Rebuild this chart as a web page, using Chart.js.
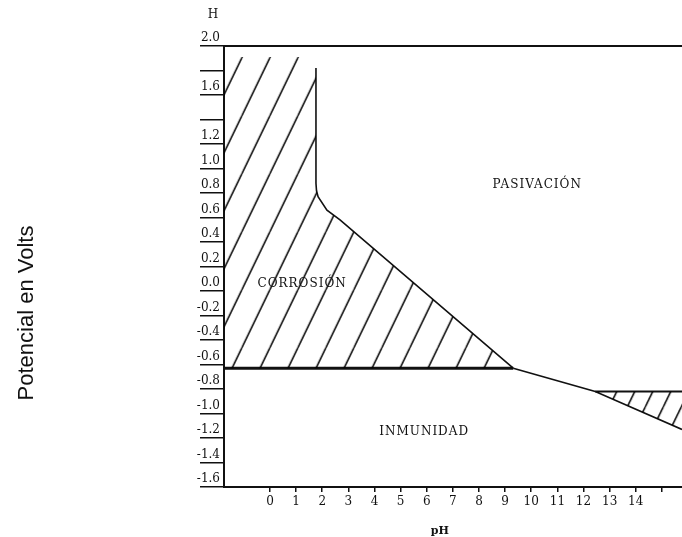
<!DOCTYPE html>
<html>
<head>
<meta charset="utf-8">
<script src="https://cdn.jsdelivr.net/npm/chart.js@4.4.1/dist/chart.umd.min.js"></script>
<style>
  html, body { margin: 0; background: #fff; }
  #wrap { width: 682px; height: 537px; }
</style>
</head>
<body>
<div id="wrap"><canvas id="chart"></canvas></div>
<script>
const PH_MIN = -1.76, PH_MAX = 15.77;
const E_MIN = -1.6, E_MAX = 2.0;

const PH_TICKS = [0, 1, 2, 3, 4, 5, 6, 7, 8, 9, 10, 11, 12, 13, 14, 15];
const PH_LABELS = ["0", "1", "2", "3", "4", "5", "6", "7", "8", "9", "10", "11", "12", "13", "14", ""];

const E_TICKS = [-1.6, -1.4, -1.2, -1.0, -0.8, -0.6, -0.4, -0.2, 0, 0.2, 0.4, 0.6, 0.8, 1.0, 1.2, 1.4, 1.6, 1.8, 2.0];
const E_LABELS = ["-1.6", "-1.4", "-1.2", "-1.0", "-0.8", "-0.6", "-0.4", "-0.2", "0.0", "0.2", "0.4", "0.6", "0.8", "1.0", "1.2", "", "1.6", "", "2.0"];

// corrosion / passivation boundary
const CORR_PH = [1.76, 1.76, 1.78, 1.84, 2.18, 2.68, 9.31];
const CORR_E = [1.82, 0.88, 0.82, 0.77, 0.66, 0.58, -0.63];

// corrosion / immunity line
const IMM_PH = [PH_MIN, 9.31];
const IMM_E = [-0.63, -0.63];

// passivation / immunity line
const PAS_PH = [9.31, 12.45, 15.77];
const PAS_E = [-0.63, -0.82, -1.13];

// upper edge of the alkaline corrosion zone
const ALK_PH = [12.45, 15.77];
const ALK_E = [-0.82, -0.82];

// hatched area of the acid corrosion zone
const ZONE_A_PH = [PH_MIN, 1.3, 1.76, 1.76, 1.78, 1.84, 2.18, 2.68, 9.31];
const ZONE_A_E = [1.91, 1.91, 1.82, 0.88, 0.82, 0.77, 0.66, 0.58, -0.63];

const ZONE_NAMES = ["CORROSIÓN", "PASIVACIÓN", "INMUNIDAD"];
const ZONE_PH = [1.23, 10.23, 5.9];
const ZONE_E = [0.06, 0.87, -1.15];

const pts = (xs, ys) => xs.map((x, i) => ({ x, y: ys[i] }));

const canvas = document.getElementById("chart");
const ctx = canvas.getContext("2d");

function hatch(step, h, dx) {
  const tile = document.createElement("canvas");
  tile.width = step;
  tile.height = h;
  const g = tile.getContext("2d");
  g.strokeStyle = "#000";
  g.lineWidth = 1.5;
  for (const k of [-1, 0, 1]) {
    g.beginPath();
    g.moveTo(k * step, h);
    g.lineTo((k + 1) * step, 0);
    g.stroke();
  }
  const p = ctx.createPattern(tile, "repeat");
  p.setTransform(new DOMMatrix().translateSelf(dx, 0));
  return p;
}

const textPlugin = {
  id: "texts",
  afterDraw(chart) {
    const { ctx, chartArea, scales } = chart;
    const x = scales.x, y = scales.y;
    ctx.save();
    ctx.fillStyle = "#111";
    ctx.textAlign = "center";
    ctx.textBaseline = "middle";

    ctx.font = '12px "DejaVu Serif"';
    ctx.letterSpacing = "1px";
    ZONE_NAMES.forEach((name, i) => {
      ctx.fillText(name, x.getPixelForValue(ZONE_PH[i]), y.getPixelForValue(ZONE_E[i]));
    });
    ctx.letterSpacing = "0px";

    ctx.font = '12px "DejaVu Serif"';
    ctx.fillText("H", chartArea.left - 11, chartArea.top - 31);

    ctx.font = 'bold 11px "DejaVu Serif"';
    ctx.fillText("pH", x.getPixelForValue(6.5), x.bottom - 6);

    ctx.font = '22px "Liberation Sans"';
    ctx.textBaseline = "alphabetic";
    ctx.translate(33, 313);
    ctx.rotate(-Math.PI / 2);
    ctx.fillText("Potencial en Volts", 0, 0);
    ctx.restore();
  },
};

const line = (data, width) => ({
  data,
  borderColor: "#111",
  borderWidth: width,
  pointRadius: 0,
  fill: false,
  tension: 0,
});

new Chart(canvas, {
  type: "line",
  data: {
    datasets: [
      {
        data: pts(ZONE_A_PH, ZONE_A_E),
        borderWidth: 0,
        pointRadius: 0,
        backgroundColor: hatch(28, 58, -10.3),
        fill: { value: -0.63 },
      },
      {
        data: pts(ALK_PH, PAS_E.slice(1)),
        borderWidth: 0,
        pointRadius: 0,
        backgroundColor: hatch(18, 37, -2.8),
        fill: { value: -0.82 },
      },
      line(pts(CORR_PH, CORR_E), 1.6),
      line(pts(IMM_PH, IMM_E), 3),
      line(pts(PAS_PH, PAS_E), 1.6),
      line(pts(ALK_PH, ALK_E), 2),
    ],
  },
  options: {
    responsive: true,
    maintainAspectRatio: false,
    animation: false,
    layout: { padding: 0 },
    plugins: { legend: { display: false }, tooltip: { enabled: false } },
    scales: {
      x: {
        type: "linear",
        min: PH_MIN,
        max: PH_MAX,
        afterBuildTicks: s => (s.ticks = PH_TICKS.map(v => ({ value: v }))),
        afterFit: s => (s.height = 50),
        grid: { drawOnChartArea: false, tickLength: 5, color: "#111", lineWidth: 1.5 },
        border: { display: true, color: "#111", width: 2 },
        ticks: {
          autoSkip: false,
          maxRotation: 0,
          padding: 3,
          color: "#111",
          font: { family: "DejaVu Serif", size: 12 },
          callback: (v, i) => PH_LABELS[i],
        },
      },
      x2: {
        type: "linear",
        position: "top",
        min: PH_MIN,
        max: PH_MAX,
        afterFit: s => (s.height = 46),
        grid: { display: false, drawTicks: false },
        border: { display: true, color: "#111", width: 2 },
        ticks: { display: false },
      },
      y: {
        type: "linear",
        min: E_MIN,
        max: E_MAX,
        afterBuildTicks: s => (s.ticks = E_TICKS.map(v => ({ value: v }))),
        afterFit: s => (s.width = 224),
        grid: { drawOnChartArea: false, tickLength: 24, color: "#111", lineWidth: 1.5 },
        border: { display: true, color: "#111", width: 2 },
        ticks: {
          autoSkip: false,
          padding: -20,
          labelOffset: -8,
          color: "#111",
          font: { family: "DejaVu Serif", size: 12 },
          callback: (v, i) => E_LABELS[i],
        },
      },
    },
  },
  plugins: [textPlugin],
});
</script>
</body>
</html>
